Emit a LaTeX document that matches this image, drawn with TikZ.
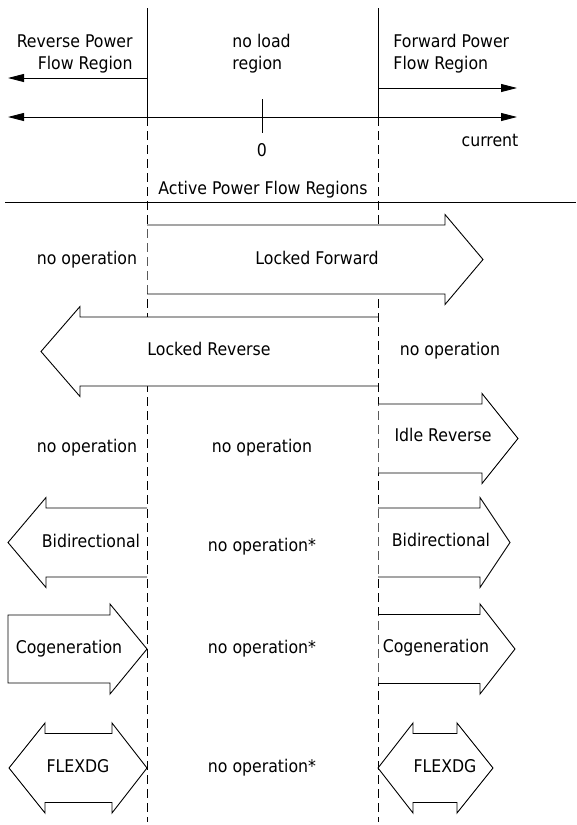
\documentclass[tikz,border=0pt]{standalone}
\usepackage{fontspec}
\setmainfont{DejaVu Sans Condensed}
\usetikzlibrary{arrows.meta}
\tikzset{
  txt/.style={inner sep=0pt, font=\fontsize{17.5}{22}\selectfont},
  region/.style={dash pattern=on 9pt off 5pt},
  flow/.style={-{Triangle[length=16pt,width=8pt]}},
}

\begin{document}
\begin{tikzpicture}[x=1pt,y=-1pt,line width=0.9pt]
\useasboundingbox (0,0) rectangle (576,825);
% region borders
\draw (147,8) -- (147,117);
\draw (378,8) -- (378,117);
\draw[region] (147,117) -- (147,822);
\draw[region] (378,117) -- (378,822);
% current axis
\coordinate (revend) at (8,78);
\coordinate (fwdend) at (517,88);
\draw[flow] (147,78) -- (revend);
\draw[flow] (378,88) -- (fwdend);
\draw[{Triangle[length=16pt,width=8pt]}-{Triangle[length=16pt,width=8pt]}] (8,117) -- (517,117);
\draw (262,99) -- (262,133);
\draw (5,202) -- (576,202);
\node[txt, anchor=east, align=right] (revlbl) at (133,54) {Reverse Power\\Flow Region};
\node[txt, anchor=west, align=left] (noload) at (232,54) {no load\\region};
\node[txt, anchor=west, align=left] (fwdlbl) at (393,54) {Forward Power\\Flow Region};
\node[txt, anchor=mid] (zero) at (262,154) {0};
\node[txt, anchor=mid] (curr) at (490,144) {current};
\node[txt, anchor=mid] (apfr) at (263,192) {Active Power Flow Regions};
% locked forward
\fill[white] (147.5,225) -- (445,225) -- (445,214.5) -- (483,259.5) -- (445,304.5) -- (445,294) -- (147.5,294) -- cycle;
\draw (147,225) -- (445,225) -- (445,214.5) -- (483,259.5) -- (445,304.5) -- (445,294) -- (147,294);
% locked reverse
\fill[white] (377.5,317) -- (80,317) -- (80,306.5) -- (41,351.5) -- (80,396.5) -- (80,386) -- (377.5,386) -- cycle;
\draw (378,317) -- (80,317) -- (80,306.5) -- (41,351.5) -- (80,396.5) -- (80,386) -- (378,386);
% idle reverse
\fill[white] (378.5,404) -- (482,404) -- (482,393.5) -- (518,438.5) -- (482,483.5) -- (482,473) -- (378.5,473) -- cycle;
\draw (378,404) -- (482,404) -- (482,393.5) -- (518,438.5) -- (482,483.5) -- (482,473) -- (378,473);
% bidirectional
\fill[white] (146.5,508) -- (46,508) -- (46,497.5) -- (8,542.5) -- (46,587.5) -- (46,577) -- (146.5,577) -- cycle;
\draw (147,508) -- (46,508) -- (46,497.5) -- (8,542.5) -- (46,587.5) -- (46,577) -- (147,577);
\fill[white] (378.5,508) -- (480,508) -- (480,497.5) -- (510,542.5) -- (480,587.5) -- (480,577) -- (378.5,577) -- cycle;
\draw (378,508) -- (480,508) -- (480,497.5) -- (510,542.5) -- (480,587.5) -- (480,577) -- (378,577);
% cogeneration
\filldraw[fill=white, draw=black] (8,615) -- (110,615) -- (110,604) -- (147,649) -- (110,694) -- (110,683) -- (8,683) -- cycle;
\fill[white] (378.5,614.5) -- (480,614.5) -- (480,604) -- (515,649) -- (480,694) -- (480,683.5) -- (378.5,683.5) -- cycle;
\draw (378,614.5) -- (480,614.5) -- (480,604) -- (515,649) -- (480,694) -- (480,683.5) -- (378,683.5);
% flexdg
\filldraw[fill=white, draw=black] (9,768) -- (45,723) -- (45,733.5) -- (112,733.5) -- (112,723) -- (147,768) -- (112,813) -- (112,802.5) -- (45,802.5) -- (45,813) -- cycle;
\filldraw[fill=white, draw=black] (378,768) -- (413,723) -- (413,733.5) -- (457,733.5) -- (457,723) -- (493,768) -- (457,813) -- (457,802.5) -- (413,802.5) -- (413,813) -- cycle;
% operation labels
\node[txt, anchor=mid] (noop1) at (87,262) {no operation};
\node[txt, anchor=mid] (lockfwd) at (317,262) {Locked Forward};
\node[txt, anchor=mid] (lockrev) at (209,353) {Locked Reverse};
\node[txt, anchor=mid] (noop2) at (450,353) {no operation};
\node[txt, anchor=mid] (idlerev) at (443,439) {Idle Reverse};
\node[txt, anchor=mid] (noop3) at (87,450) {no operation};
\node[txt, anchor=mid] (noop4) at (262,450) {no operation};
\node[txt, anchor=mid] (bidl) at (91,545) {Bidirectional};
\node[txt, anchor=mid] (noop5) at (262,549) {no operation*};
\node[txt, anchor=mid] (bidr) at (441,544) {Bidirectional};
\node[txt, anchor=mid] (cogl) at (69,651) {Cogeneration};
\node[txt, anchor=mid] (noop6) at (262,651) {no operation*};
\node[txt, anchor=mid] (cogr) at (436,650) {Cogeneration};
\node[txt, anchor=mid] (flexl) at (78,770) {FLEXDG};
\node[txt, anchor=mid] (noop7) at (262,770) {no operation*};
\node[txt, anchor=mid] (flexr) at (445,770) {FLEXDG};
\end{tikzpicture}
\end{document}
